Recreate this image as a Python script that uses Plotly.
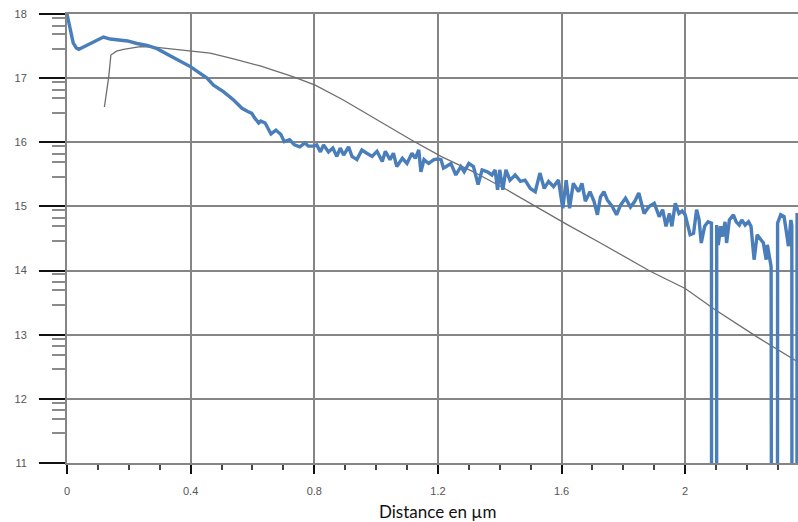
import plotly.graph_objects as go

# ---- data ----
blue_x = [0.0, 0.010, 0.020, 0.030, 0.038, 0.055, 0.075, 0.099, 0.118, 0.140, 0.164, 0.196, 0.226, 0.259,
          0.291, 0.323, 0.356, 0.399, 0.431, 0.453, 0.474, 0.506, 0.539, 0.566, 0.585, 0.598, 0.607, 0.620,
          0.627, 0.641, 0.660, 0.676, 0.692, 0.703, 0.720, 0.736, 0.753, 0.770, 0.781, 0.798, 0.808, 0.820,
          0.830, 0.846, 0.860, 0.873, 0.884, 0.895, 0.911, 0.922, 0.938, 0.954, 0.970, 0.987, 1.003, 1.020,
          1.030, 1.045, 1.056, 1.067, 1.085, 1.100, 1.116, 1.127, 1.138, 1.145, 1.155, 1.170, 1.187, 1.200,
          1.210, 1.218, 1.226, 1.242, 1.258, 1.274, 1.285, 1.300, 1.315, 1.330, 1.343, 1.360, 1.375, 1.385,
          1.393, 1.400, 1.410, 1.420, 1.433, 1.450, 1.467, 1.482, 1.499, 1.515, 1.530, 1.544, 1.558, 1.574,
          1.590, 1.604, 1.615, 1.626, 1.638, 1.655, 1.666, 1.677, 1.692, 1.705, 1.716, 1.726, 1.737, 1.748,
          1.764, 1.778, 1.791, 1.807, 1.823, 1.837, 1.850, 1.867, 1.883, 1.900, 1.916, 1.927, 1.938, 1.949,
          1.957, 1.968, 1.980, 1.990, 2.000, 2.016, 2.027, 2.037, 2.045, 2.052, 2.063, 2.074, 2.085, 2.086,
          2.101, 2.102, 2.107, 2.115, 2.121, 2.129, 2.134, 2.143, 2.156, 2.165, 2.175, 2.183, 2.194, 2.205,
          2.213, 2.223, 2.233, 2.244, 2.253, 2.262, 2.266, 2.278, 2.282, 2.298, 2.299, 2.309, 2.320, 2.328,
          2.334, 2.342, 2.345, 2.346, 2.361, 2.362, 2.370]
blue_y = [18.0, 17.80, 17.55, 17.47, 17.45, 17.49, 17.54, 17.60, 17.64, 17.61, 17.60, 17.58, 17.54, 17.51,
          17.46, 17.37, 17.29, 17.18, 17.08, 17.00, 16.89, 16.79, 16.66, 16.53, 16.48, 16.45, 16.38, 16.30,
          16.33, 16.30, 16.13, 16.19, 16.12, 16.01, 16.04, 15.96, 15.93, 15.99, 15.94, 15.94, 15.96, 15.85,
          15.96, 15.85, 15.91, 15.78, 15.91, 15.80, 15.93, 15.78, 15.73, 15.88, 15.83, 15.78, 15.86, 15.70,
          15.86, 15.73, 15.83, 15.62, 15.75, 15.67, 15.83, 15.75, 15.88, 15.54, 15.73, 15.67, 15.73, 15.74,
          15.73, 15.60, 15.62, 15.67, 15.49, 15.62, 15.54, 15.67, 15.62, 15.34, 15.57, 15.54, 15.49, 15.57,
          15.26, 15.57, 15.26, 15.57, 15.41, 15.49, 15.39, 15.41, 15.28, 15.23, 15.52, 15.28, 15.39, 15.31,
          15.41, 14.97, 15.41, 14.97, 15.36, 15.23, 15.36, 15.08, 15.23, 15.08, 14.87, 15.15, 15.23, 15.10,
          15.00, 14.87, 15.02, 15.13, 14.99, 15.08, 15.21, 14.89, 15.00, 15.05, 14.84, 14.95, 14.69, 14.89,
          14.69, 15.05, 14.89, 14.93, 14.87, 14.56, 14.58, 14.95, 14.79, 14.43, 14.69, 14.76, 14.74, 0.0,
          0.0, 14.71, 14.40, 14.69, 14.53, 14.76, 14.43, 14.79, 14.87, 14.76, 14.71, 14.79, 14.71, 14.76,
          14.69, 14.17, 14.56, 14.48, 14.43, 14.17, 14.40, 14.06, 0.0, 0.0, 14.74, 14.87, 14.84, 14.58,
          14.38, 14.79, 14.70, 0.0, 0.0, 14.87, 14.87]

grey_x = [0.121, 0.135, 0.142, 0.160, 0.183, 0.237, 0.291, 0.356, 0.400, 0.463, 0.539, 0.625, 0.733,
          0.803, 0.894, 1.003, 1.113, 1.210, 1.315, 1.423, 1.509, 1.617, 1.726, 1.887, 2.000, 2.097,
          2.231, 2.361, 2.370]
grey_y = [16.55, 17.02, 17.36, 17.42, 17.45, 17.49, 17.48, 17.45, 17.43, 17.39, 17.30, 17.19, 17.02,
          16.89, 16.66, 16.35, 16.04, 15.78, 15.54, 15.26, 15.02, 14.72, 14.43, 13.99, 13.72, 13.39,
          12.97, 12.58, 12.56]

x_tick_vals = [0, 0.4, 0.8, 1.2, 1.6, 2.0]
x_tick_text = ["0", "0.4", "0.8", "1.2", "1.6", "2"]
y_tick_vals = [11, 12, 13, 14, 15, 16, 17, 18]
y_tick_text = ["11", "12", "13", "14", "15", "16", "17", "18"]
y_minor_offsets = [0.06, 0.18, 0.31, 0.54]
x_title = "Distance en µm"

y_minor_vals = [m - o for m in y_tick_vals[1:] for o in y_minor_offsets]

fig = go.Figure()
fig.add_trace(go.Scatter(x=grey_x, y=grey_y, mode="lines",
                         line=dict(color="#6e6e6e", width=1.3), hoverinfo="skip"))
fig.add_trace(go.Scatter(x=blue_x, y=blue_y, mode="lines",
                         line=dict(color="#4a7ebb", width=3.4), hoverinfo="skip"))

tick_font = dict(family="Liberation Sans, Arial, sans-serif", size=11, color="#555555")

fig.update_layout(
    width=798, height=522,
    margin=dict(l=67, r=0, t=14, b=59),
    paper_bgcolor="white", plot_bgcolor="white",
    showlegend=False,
    xaxis=dict(range=[0, 2.365], tickmode="array", tickvals=x_tick_vals, ticktext=x_tick_text,
               showgrid=True, gridcolor="#858585", gridwidth=2, zeroline=False,
               showline=True, linecolor="#858585", linewidth=2, mirror=True,
               ticks="outside", ticklen=9, tickwidth=2, tickcolor="#111111",
               ticklabelstandoff=8, tickfont=tick_font, automargin=False,
               minor=dict(dtick=0.1, tick0=0, ticks="outside", ticklen=5, tickwidth=2,
                          tickcolor="#444444", showgrid=False)),
    yaxis=dict(range=[11, 18], tickmode="array", tickvals=y_tick_vals, ticktext=y_tick_text,
               showgrid=True, gridcolor="#858585", gridwidth=2, zeroline=False,
               showline=True, linecolor="#858585", linewidth=2,
               ticks="outside", ticklen=26, tickwidth=2, tickcolor="#111111",
               ticklabelstandoff=10, tickfont=tick_font, automargin=False,
               minor=dict(tickmode="array", tickvals=y_minor_vals, ticks="outside", ticklen=13,
                          tickwidth=2, tickcolor="#8a8a8a", showgrid=False)),
    annotations=[dict(text=x_title, xref="paper", yref="paper", x=0.507, y=-0.109,
                      xanchor="center", yanchor="middle", showarrow=False,
                      font=dict(family="Lato, Open Sans, sans-serif", size=17, color="#111111"))],
)

fig.write_html("out.html", config={"displayModeBar": False, "staticPlot": True},
               post_script="document.body.style.margin='0';document.body.style.overflow='hidden';")
